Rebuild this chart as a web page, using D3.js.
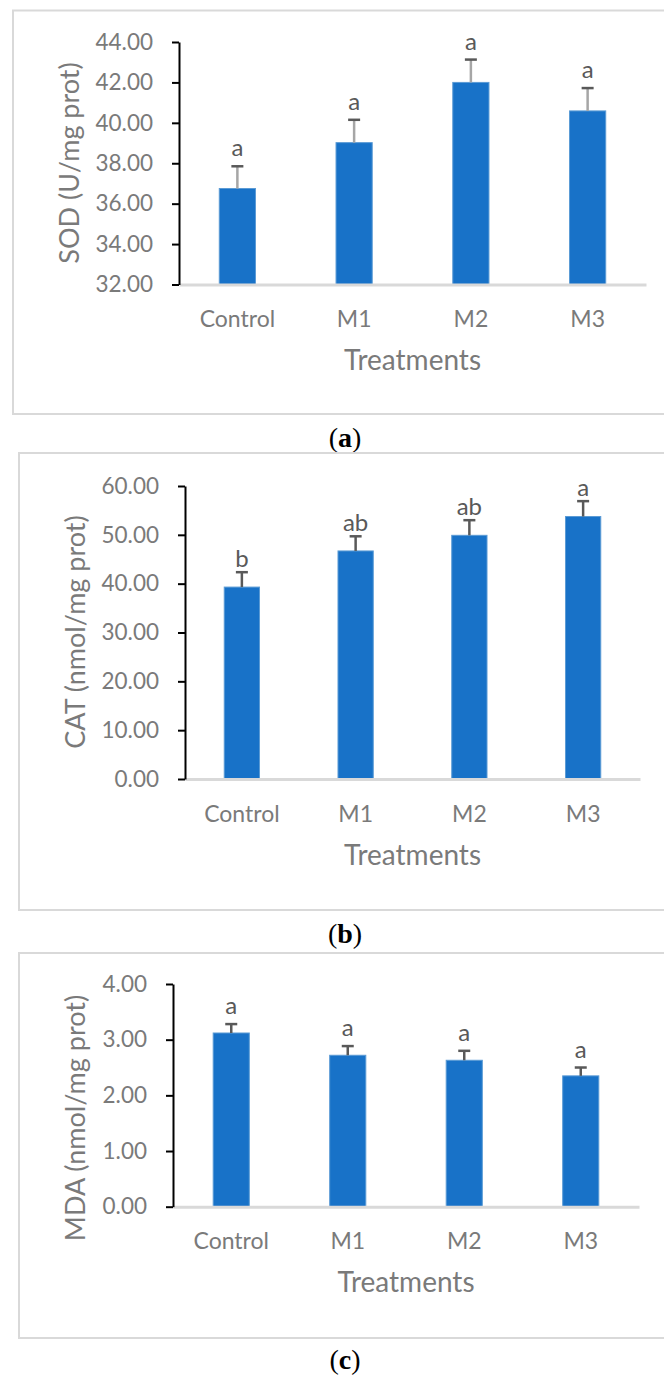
<!DOCTYPE html>
<html>
<head>
<meta charset="utf-8">
<script src="https://cdn.jsdelivr.net/npm/d3@7"></script>
<style>
  html, body { margin: 0; padding: 0; background: #fff; }
  svg { display: block; }
</style>
</head>
<body>
<svg id="fig" width="664" height="1376"></svg>
<script>
// Treatment groups shared by all three panels
const treatments = ["Control", "M1", "M2", "M3"];

// (a) superoxide dismutase
const sodMeans   = [36.75, 39.02, 42.00, 40.59];
const sodErrors  = [1.10, 1.13, 1.13, 1.13];
const sodLetters = ["a", "a", "a", "a"];
const sodTicks   = [32, 34, 36, 38, 40, 42, 44];

// (b) catalase
const catMeans   = [39.3, 46.7, 49.9, 53.75];
const catErrors  = [3.05, 3.0, 3.1, 3.15];
const catLetters = ["b", "ab", "ab", "a"];
const catTicks   = [0, 10, 20, 30, 40, 50, 60];

// (c) malondialdehyde
const mdaMeans   = [3.12, 2.72, 2.63, 2.35];
const mdaErrors  = [0.16, 0.165, 0.17, 0.15];
const mdaLetters = ["a", "a", "a", "a"];
const mdaTicks   = [0, 1, 2, 3, 4];

const panels = [
  {
    caption: "a", yTitle: "SOD (U/mg prot)",
    means: sodMeans, errors: sodErrors, letters: sodLetters, ticks: sodTicks,
    frame: { x: 13, y: 10.5, h: 403.5 },
    x0: 179, x1: 646, yTop: 42, yBottom: 284.5,
    titleX: 79, titleY: 163, labelPad: 26, xTitleY: 370,
    letterGap: 10, stemColor: "#a6a6a6", captionY: 447
  },
  {
    caption: "b", yTitle: "CAT (nmol/mg prot)",
    means: catMeans, errors: catErrors, letters: catLetters, ticks: catTicks,
    frame: { x: 19, y: 453, h: 457 },
    x0: 185, x1: 640, yTop: 486, yBottom: 779,
    titleX: 85, titleY: 632, labelPad: 27, xTitleY: 865,
    letterGap: 5, stemColor: "#595959", captionY: 943
  },
  {
    caption: "c", yTitle: "MDA (nmol/mg prot)",
    means: mdaMeans, errors: mdaErrors, letters: mdaLetters, ticks: mdaTicks,
    frame: { x: 19, y: 953, h: 385 },
    x0: 173, x1: 639, yTop: 984, yBottom: 1206.7,
    titleX: 85, titleY: 1118, labelPad: 25.5, xTitleY: 1292,
    letterGap: 10, stemColor: "#595959", captionY: 1369
  }
];

const svg = d3.select("#fig");
const FONT = "Lato, 'Open Sans', sans-serif";
const GREY_TEXT = "#7a7a7a";
const DARK = "#595959";
const BAR_FILL = "#1872c8";
const BAR_EDGE = "#5b9bd5";

panels.forEach(p => {
  const g = svg.append("g");

  // chart-area border
  g.append("rect")
    .attr("x", p.frame.x).attr("y", p.frame.y)
    .attr("width", 700).attr("height", p.frame.h)
    .attr("fill", "none").attr("stroke", "#d9d9d9").attr("stroke-width", 2);

  const data = treatments.map((t, i) => ({
    name: t, mean: p.means[i], err: p.errors[i], letter: p.letters[i]
  }));

  const x = d3.scaleBand()
    .domain(treatments)
    .range([p.x0, p.x1])
    .paddingInner(0.69)
    .paddingOuter(0.345);

  const y = d3.scaleLinear()
    .domain(d3.extent(p.ticks))
    .range([p.yBottom, p.yTop]);

  // bars
  g.append("g").selectAll("rect")
    .data(data).join("rect")
    .attr("x", d => x(d.name))
    .attr("y", d => y(d.mean))
    .attr("width", x.bandwidth())
    .attr("height", d => y(y.domain()[0]) - y(d.mean))
    .attr("fill", BAR_FILL)
    .attr("stroke", BAR_EDGE).attr("stroke-width", 1);

  // x axis line and category labels
  const xAxis = g.append("g")
    .attr("transform", `translate(0,${p.yBottom})`)
    .call(d3.axisBottom(x).tickSize(0).tickPadding(p.labelPad));
  xAxis.select(".domain").attr("stroke", "#d9d9d9").attr("stroke-width", 3);
  xAxis.selectAll("text")
    .attr("font-family", FONT).attr("font-size", 23).attr("fill", GREY_TEXT);

  // y axis
  const yAxis = g.append("g")
    .attr("transform", `translate(${p.x0},0)`)
    .call(d3.axisLeft(y).tickValues(p.ticks).tickFormat(d3.format(".2f"))
      .tickSize(7).tickSizeOuter(0).tickPadding(19));
  yAxis.select(".domain").attr("stroke", "#000").attr("stroke-width", 2);
  yAxis.selectAll(".tick line").attr("stroke", "#000").attr("stroke-width", 2);
  yAxis.selectAll("text")
    .attr("font-family", FONT).attr("font-size", 22.5).attr("fill", GREY_TEXT);

  // error bars (upper half only)
  const eb = g.append("g").selectAll("g").data(data).join("g")
    .attr("transform", d => `translate(${x(d.name) + x.bandwidth() / 2},0)`);
  eb.append("line")
    .attr("y1", d => y(d.mean)).attr("y2", d => y(d.mean + d.err))
    .attr("stroke", p.stemColor).attr("stroke-width", 2.5);
  eb.append("line")
    .attr("x1", -6).attr("x2", 6)
    .attr("y1", d => y(d.mean + d.err)).attr("y2", d => y(d.mean + d.err))
    .attr("stroke", DARK).attr("stroke-width", 2.5);

  // significance letters
  eb.append("text")
    .attr("y", d => y(d.mean + d.err) - p.letterGap)
    .attr("text-anchor", "middle")
    .attr("font-family", FONT).attr("font-size", 24).attr("fill", DARK)
    .text(d => d.letter);

  // axis titles
  g.append("text")
    .attr("x", (p.x0 + p.x1) / 2).attr("y", p.xTitleY)
    .attr("text-anchor", "middle")
    .attr("font-family", FONT).attr("font-size", 28).attr("fill", GREY_TEXT)
    .text("Treatments");

  g.append("text")
    .attr("transform", `translate(${p.titleX},${p.titleY}) rotate(-90)`)
    .attr("text-anchor", "middle")
    .attr("font-family", FONT).attr("font-size", 27).attr("fill", GREY_TEXT)
    .text(p.yTitle);

  // panel caption
  const cap = svg.append("text")
    .attr("x", 345).attr("y", p.captionY)
    .attr("text-anchor", "middle")
    .attr("font-family", "'Liberation Serif', 'DejaVu Serif', serif")
    .attr("font-size", 28).attr("fill", "#000");
  cap.append("tspan").text("(");
  cap.append("tspan").attr("font-weight", "bold").text(p.caption);
  cap.append("tspan").text(")");
});
</script>
</body>
</html>
